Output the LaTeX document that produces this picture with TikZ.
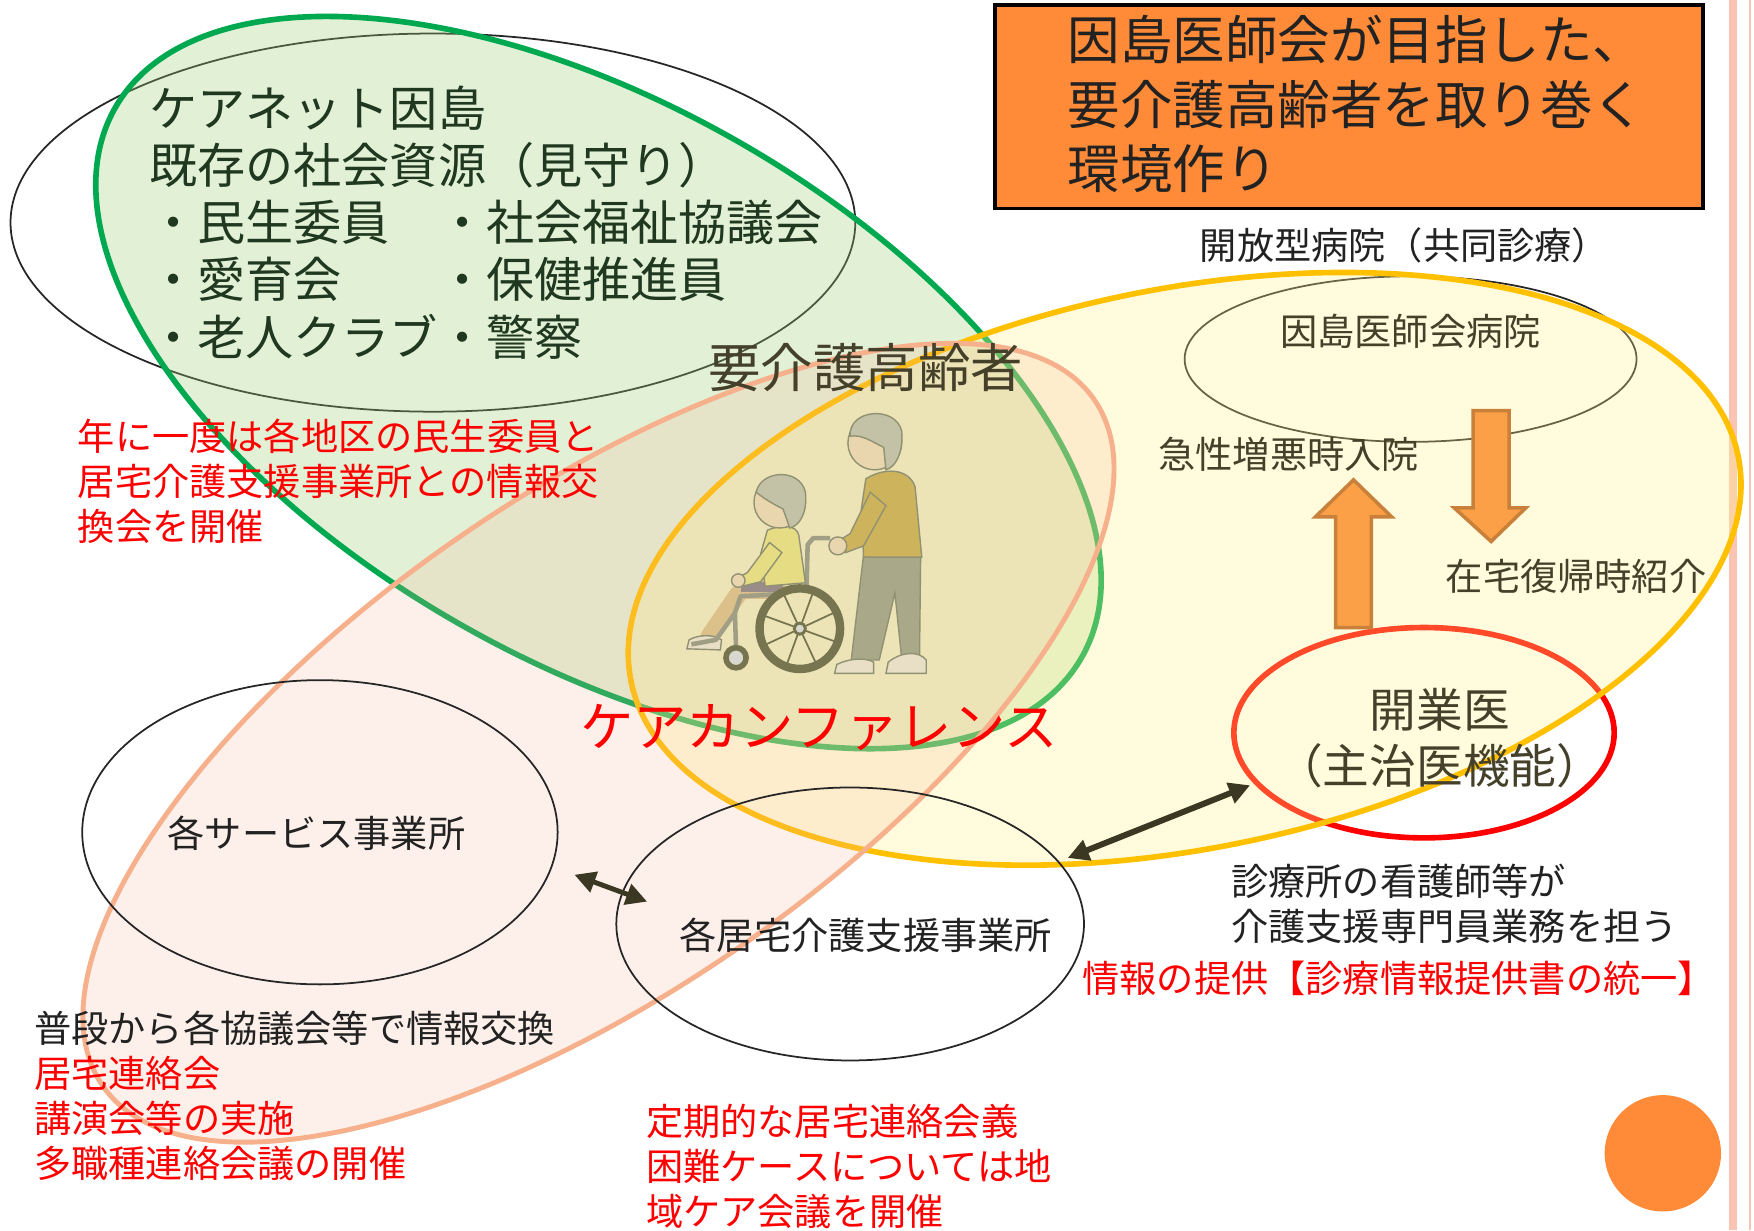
\documentclass[tikz,border=0pt]{standalone}
\usepackage{fontspec}
\setmainfont{Noto Sans CJK JP}
\usetikzlibrary{shapes.geometric,arrows.meta}

\definecolor{titleorange}{HTML}{FF8A38}
\definecolor{netgreen}{HTML}{00A850}
\definecolor{netgreenfill}{HTML}{9ECD76}
\definecolor{kaigoyellow}{HTML}{FFC000}
\definecolor{kaigoyellowfill}{HTML}{FFF28A}
\definecolor{peachline}{HTML}{F7B08C}
\definecolor{peachfill}{HTML}{F5B496}
\definecolor{stripepink}{HTML}{F9C5B2}
\definecolor{blockorange}{HTML}{FBA046}
\definecolor{blockedge}{HTML}{C8803A}
\definecolor{darktext}{HTML}{222222}
\definecolor{olivetext}{HTML}{45402A}
\definecolor{arrowdark}{HTML}{3A3822}
\definecolor{hairgrey}{HTML}{C4C2A6}
\definecolor{skin}{HTML}{EAD6AE}
\definecolor{mustard}{HTML}{CDB45C}
\definecolor{pantsgrey}{HTML}{A9A98A}
\definecolor{shoecream}{HTML}{E9DFC6}
\definecolor{sweateryellow}{HTML}{E5DC84}
\definecolor{tanskin}{HTML}{DCC08A}
\definecolor{tirecol}{HTML}{767550}
\definecolor{framecol}{HTML}{A09E84}
\definecolor{seatpurple}{HTML}{9A8C88}

\begin{document}
\begin{tikzpicture}[x=0.0112cm, y=-0.0112cm,
  oval/.style={draw=black!85, line width=0.5pt, ellipse, inner sep=0pt},
  greenoval/.style={draw=netgreen, line width=1.6pt, fill=netgreenfill, fill opacity=0.3},
  yellowoval/.style={draw=kaigoyellow, line width=1.6pt, fill=kaigoyellowfill, fill opacity=0.3},
  peachoval/.style={draw=peachline, line width=1.4pt, fill=peachfill, fill opacity=0.2},
  titlebox/.style={draw=black, line width=0.9pt, fill=titleorange, minimum width=7.09cm, minimum height=2.035cm, inner sep=0pt},
  txt/.style={inner sep=0pt, anchor=west, align=left, text=darktext},
  small/.style={font=\fontsize{10.6}{12.8}\selectfont},
  mid/.style={font=\fontsize{13.7}{16.25}\selectfont},
  big/.style={font=\fontsize{14.95}{18.3}\selectfont},
  biarrow/.style={{Triangle[length=6pt,width=6pt]}-{Triangle[length=6pt,width=6pt]}, line width=1.4pt, draw=arrowdark},
  blockarrow/.style={fill=blockorange, draw=blockedge, line width=1pt, line join=miter},
  figline/.style={draw=tirecol!80, line width=0.4pt},
  tire/.style={draw=tirecol, line width=2.4pt},
  spoke/.style={draw=tirecol, line width=0.5pt},
  frame/.style={draw=framecol, line width=1.3pt, line join=round}]
\useasboundingbox (0,0) rectangle (1568,1100);
\fill[stripepink] (1546,0) rectangle (1552.5,1100);
\fill[stripepink] (1563.5,0) rectangle (1565.5,1100);

\node[titlebox, anchor=north west] (title) at (888,3) {};
\node[circle, fill=titleorange, minimum size=1.165cm, inner sep=0pt] (dot) at (1486.5,1031) {};

\node[oval, minimum width=8.458cm, minimum height=3.786cm] (net) at (387,199) {};
\node[oval, draw=red, line width=1.6pt, minimum width=3.808cm, minimum height=2.106cm] (gp) at (1273,655) {};

\draw[greenoval, rotate around={-29.6:(535,342)}] (535,342) ellipse [x radius=497, y radius=249];
\node[oval, minimum width=4.525cm, minimum height=1.658cm] (hosp) at (1261,321) {};
\draw[yellowoval, rotate around={11.5:(1059,508.5)}] (1059,508.5) ellipse [x radius=505, y radius=250];
\draw[peachoval, rotate around={34.7:(535,664)}] (535,664) ellipse [x radius=539, y radius=222];
\node[oval, minimum width=4.76cm, minimum height=3.046cm] (sv) at (286,744) {};
\node[oval, minimum width=4.682cm, minimum height=2.733cm] (kt) at (760,826) {};

\draw[figline, fill=pantsgrey] (772,496) -- (823,496) -- (822,588) -- (806,588) -- (800,530) -- (786,590) -- (761,590) -- (768,530) -- cycle;
\draw[figline, fill=mustard] (774,428) .. controls (790,418) and (812,418) .. (818,435) -- (824,498) -- (772,498) -- (770,455) -- cycle;
\draw[figline, fill=mustard] (778,440) -- (760,477) -- (752,482) -- (756,494) -- (772,488) -- (792,452) -- cycle;
\draw[figline, fill=skin] (749,488) circle [radius=8];
\draw[figline, fill=skin] (782,396) circle [radius=24];
\draw[figline, fill=hairgrey] (760,390) .. controls (758,366) and (800,362) .. (806,385) .. controls (808,405) and (800,418) .. (792,420) -- (790,400) .. controls (780,395) and (770,388) .. (760,390) -- cycle;
\draw[figline, fill=shoecream] (746,602) -- (748,594) .. controls (760,588) and (775,588) .. (781,592) -- (781,602) -- cycle;
\draw[figline, fill=shoecream] (792,602) -- (794,592) .. controls (806,582) and (822,582) .. (828,590) -- (828,602) -- cycle;

\draw[frame] (742,481) -- (727,481) -- (722,487) -- (721,525) -- (690,528);
\draw[line width=5.5pt, tanskin, line cap=round] (666,527) -- (694,527);
\draw[line width=5pt, tanskin, line cap=round] (660,531) -- (634,569);
\fill[seatpurple] (662,520) rectangle (700,529);
\draw[figline, fill=sweateryellow] (686,474) .. controls (700,468) and (712,470) .. (714,478) -- (720,521) -- (684,524) -- (680,495) -- cycle;
\draw[figline, fill=sweateryellow] (688,485) -- (668,512) -- (662,515) -- (664,524) -- (680,520) -- (699,494) -- cycle;
\draw[figline, fill=skin] (660,519) circle [radius=6];
\draw[figline, fill=skin] (697,449) circle [radius=23];
\draw[figline, fill=hairgrey] (676,440) .. controls (680,420) and (715,418) .. (720,440) .. controls (722,458) and (715,470) .. (706,472) -- (700,455) .. controls (690,450) and (682,445) .. (676,440) -- cycle;
\draw[figline, fill=shoecream] (614,580) -- (616,572) .. controls (625,567) and (638,567) .. (645,572) -- (644,581) -- cycle;
\draw[frame] (700,531) -- (662,533) -- (657,548) -- (658,580);
\draw[frame] (657,548) -- (640,572) -- (618,576);
\foreach \a in {0,45,...,315}
  \draw[spoke] (715,562) -- ++(\a+20:33);
\draw[tire] (715,562) circle [radius=36];
\draw[tire, line width=0.8pt, fill=framecol!40] (715,562) circle [radius=5];
\draw[tire, line width=1.6pt, fill=white!60!framecol] (658,588) circle [radius=9];

\draw[blockarrow] (1194,561) -- (1194,462) -- (1176,462) -- (1210,429) -- (1244,462) -- (1226,462) -- (1226,561) -- cycle;
\draw[blockarrow] (1317,367) -- (1349,367) -- (1349,454) -- (1364,454) -- (1333,484) -- (1300,454) -- (1317,454) -- cycle;

\coordinate (svr) at (513.5,782);
\coordinate (ktl) at (578.5,806);
\draw[biarrow] (svr) -- (ktl);
\coordinate (ktr) at (954.5,767);
\coordinate (gpl) at (1117.5,702);
\draw[biarrow, line width=1.7pt] (ktr) -- (gpl);

\node[txt, big] (titletext) at (954,93) {因島医師会が目指した、\\要介護高齢者を取り巻く\\環境作り};
\node[txt, mid, text=darktext!90!green] (nettext) at (133,199) {ケアネット因島\\既存の社会資源（見守り）\\・民生委員　・社会福祉協議会\\・愛育会　　・保健推進員\\・老人クラブ・警察};
\node[txt, big, anchor=center, text=olivetext] (elder) at (774,329) {要介護高齢者};
\node[txt, font=\fontsize{15.2}{18}\selectfont, anchor=center, text=red] (conf) at (732,650) {ケアカンファレンス};
\node[txt, small, text=red] (yearly) at (69,430) {年に一度は各地区の民生委員と\\居宅介護支援事業所との情報交\\換会を開催};
\node[txt, small] (open) at (1072,219) {開放型病院（共同診療）};
\node[txt, small, anchor=center, text=olivetext] (hosptext) at (1261,296) {因島医師会病院};
\node[txt, small, anchor=center, text=olivetext] (acute) at (1152,406) {急性増悪時入院};
\node[txt, small, anchor=center, text=olivetext] (home) at (1409,515) {在宅復帰時紹介};
\node[txt, font=\fontsize{13.3}{15.9}\selectfont, anchor=center, align=center, text=olivetext] (gptext) at (1287,660) {開業医\\（主治医機能）};
\node[txt, small, anchor=center] (svtext) at (283,745) {各サービス事業所};
\node[txt, small, anchor=center] (kttext) at (774,836) {各居宅介護支援事業所};
\node[txt, small] (nurse) at (1100,808) {診療所の看護師等が\\介護支援専門員業務を担う};
\node[txt, small, text=red] (info) at (967,875) {情報の提供【診療情報提供書の統一】};
\node[txt, small] (daily) at (30,980) {普段から各協議会等で情報交換\\\textcolor{red}{居宅連絡会}\\\textcolor{red}{講演会等の実施}\\\textcolor{red}{多職種連絡会議の開催}};
\node[txt, small, text=red] (regular) at (577,1043) {定期的な居宅連絡会義\\困難ケースについては地\\域ケア会議を開催};
\end{tikzpicture}
\end{document}
